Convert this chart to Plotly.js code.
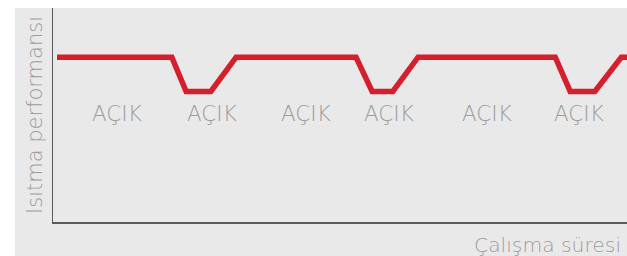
<!DOCTYPE html>
<html>
<head>
<meta charset="utf-8">
<script src="https://cdn.plot.ly/plotly-3.0.1.min.js"></script>
<style>
  html, body { margin: 0; padding: 0; background: #ffffff; width: 627px; height: 256px; overflow: hidden; }
  #chart { position: absolute; left: 15px; top: 8px; width: 612px; height: 248px; }
</style>
</head>
<body>
<div id="chart"></div>
<script>
// Operating time (arbitrary units) and heating performance (arbitrary units)
const timeValues = [0.7, 20.7, 23.2, 27.5, 31.9, 52.8, 55.6, 59.2, 63.6, 87.5, 90.1, 94.4, 99.0, 103];
const performanceValues = [7.7, 7.7, 6.1, 6.1, 7.7, 7.7, 6.1, 6.1, 7.7, 7.7, 6.1, 6.1, 7.7, 7.7];

// "AÇIK" (ON) labels
const labelTimes = [11.1, 27.7, 44.1, 58.5, 75.6, 91.6];
const labelLevel = 5.05;
const labelText = "AÇIK";

const xTitle = "Çalışma süresi";
const yTitle = "Isıtma performansı";

const baseFont = { family: "DejaVu Sans, sans-serif", color: "#9c9c9c", weight: 300 };

const annotations = labelTimes.map(t => ({
  x: t, y: labelLevel, xref: "x", yref: "y",
  text: labelText, showarrow: false,
  xanchor: "center", yanchor: "middle",
  font: Object.assign({}, baseFont, { size: 21.5 })
}));
annotations.push({
  x: 0.993, y: -0.107, xref: "paper", yref: "paper",
  text: xTitle, showarrow: false, xanchor: "right", yanchor: "middle",
  font: Object.assign({}, baseFont, { size: 20.3 })
});
annotations.push({
  x: -0.0314, y: 0.5, xref: "paper", yref: "paper",
  text: yTitle, showarrow: false, xanchor: "center", yanchor: "middle",
  textangle: -90, font: Object.assign({}, baseFont, { size: 21 })
});

const trace = {
  x: timeValues, y: performanceValues,
  type: "scatter", mode: "lines",
  line: { color: "#d61f2c", width: 5.5, shape: "linear" },
  hoverinfo: "skip"
};

const layout = {
  width: 612, height: 248,
  margin: { l: 38, r: 0, t: 0, b: 34, pad: 0 },
  paper_bgcolor: "#e9e9e9",
  plot_bgcolor: "#e9e9e9",
  showlegend: false,
  xaxis: {
    range: [0, 100], showgrid: false, zeroline: false, showticklabels: false, ticks: "",
    showline: true, linecolor: "#5a5a5a", linewidth: 1.5, fixedrange: true
  },
  yaxis: {
    range: [0, 10], showgrid: false, zeroline: false, showticklabels: false, ticks: "",
    showline: true, linecolor: "#5a5a5a", linewidth: 1.5, fixedrange: true
  },
  annotations: annotations
};

Plotly.newPlot("chart", [trace], layout, { displayModeBar: false, staticPlot: true });
</script>
</body>
</html>
